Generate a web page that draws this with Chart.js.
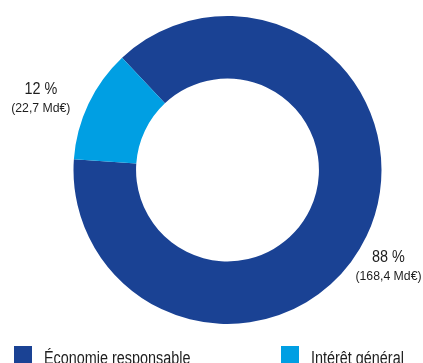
<!DOCTYPE html>
<html>
<head>
<meta charset="utf-8">
<script src="https://cdn.jsdelivr.net/npm/chart.js@4"></script>
<style>
  html, body { margin: 0; padding: 0; background: #fff; overflow: hidden; }
  #wrap { width: 423px; height: 363px; position: relative; }
</style>
</head>
<body>
<div id="wrap"><canvas id="c" width="423" height="363"></canvas></div>
<script>
// Répartition des encours (Md€)
const categories = ['Économie responsable', 'Intérêt général'];
const amounts = [168.4, 22.7];
const colors = ['#1a4294', '#009fe3'];

const FONT = '"Liberation Sans", Arial, sans-serif';

const total = amounts.reduce((a, b) => a + b, 0);
const pctText = v => Math.round(v / total * 100) + ' %';
const mdText = v => '(' + v.toFixed(1).replace('.', ',') + ' Md€)';

// Texte légèrement condensé horizontalement
function condensedText(ctx, text, x, y, sx) {
  ctx.save();
  ctx.translate(x, y);
  ctx.scale(sx, 1);
  ctx.fillText(text, 0, 0);
  ctx.restore();
}

// Étiquettes de valeur à côté de l'anneau
const valueLabels = {
  id: 'valueLabels',
  afterDatasetsDraw(chart, args, opts) {
    const ctx = chart.ctx;
    const vals = chart.data.datasets[0].data;
    ctx.save();
    ctx.fillStyle = opts.color;
    ctx.textAlign = 'center';
    ctx.textBaseline = 'alphabetic';
    vals.forEach((v, i) => {
      const a = opts.anchors[i];
      ctx.font = opts.bigSize + 'px ' + FONT;
      condensedText(ctx, pctText(v), a.x, a.y, opts.bigScale);
      ctx.font = opts.smallSize + 'px ' + FONT;
      condensedText(ctx, mdText(v), a.x, a.y + opts.lineGap, opts.smallScale);
    });
    ctx.restore();
  }
};

// Légende en bas
const bottomLegend = {
  id: 'bottomLegend',
  afterDraw(chart, args, opts) {
    const ctx = chart.ctx;
    const ds = chart.data.datasets[0];
    ctx.save();
    ctx.textBaseline = 'alphabetic';
    ctx.textAlign = 'left';
    ctx.font = opts.fontSize + 'px ' + FONT;
    chart.data.labels.forEach((lab, i) => {
      const x = opts.xs[i];
      ctx.fillStyle = ds.backgroundColor[i];
      ctx.fillRect(x, opts.boxTop, opts.boxSize, opts.boxSize);
      ctx.fillStyle = opts.color;
      condensedText(ctx, lab, x + opts.textGap, opts.baseline, opts.scale);
    });
    ctx.restore();
  }
};

new Chart(document.getElementById('c'), {
  type: 'doughnut',
  data: {
    labels: categories,
    datasets: [{
      data: amounts,
      backgroundColor: colors,
      borderWidth: 0,
      hoverOffset: 0,
      radius: 154,
      cutout: 95
    }]
  },
  options: {
    responsive: false,
    animation: false,
    rotation: -43.2,
    layout: { padding: { left: 40, right: 8, top: 10, bottom: 33 } },
    events: [],
    plugins: {
      legend: { display: false },
      tooltip: { enabled: false },
      valueLabels: {
        color: '#1e1e1e',
        bigSize: 16,
        bigScale: 0.9,
        smallSize: 12.5,
        smallScale: 0.98,
        lineGap: 18,
        anchors: [{ x: 388.5, y: 262 }, { x: 40.8, y: 94 }]
      },
      bottomLegend: {
        color: '#1e1e1e',
        fontSize: 18,
        scale: 0.8,
        xs: [14, 281],
        boxTop: 346,
        boxSize: 18,
        textGap: 30,
        baseline: 363.5
      }
    }
  },
  plugins: [valueLabels, bottomLegend]
});
</script>
</body>
</html>
